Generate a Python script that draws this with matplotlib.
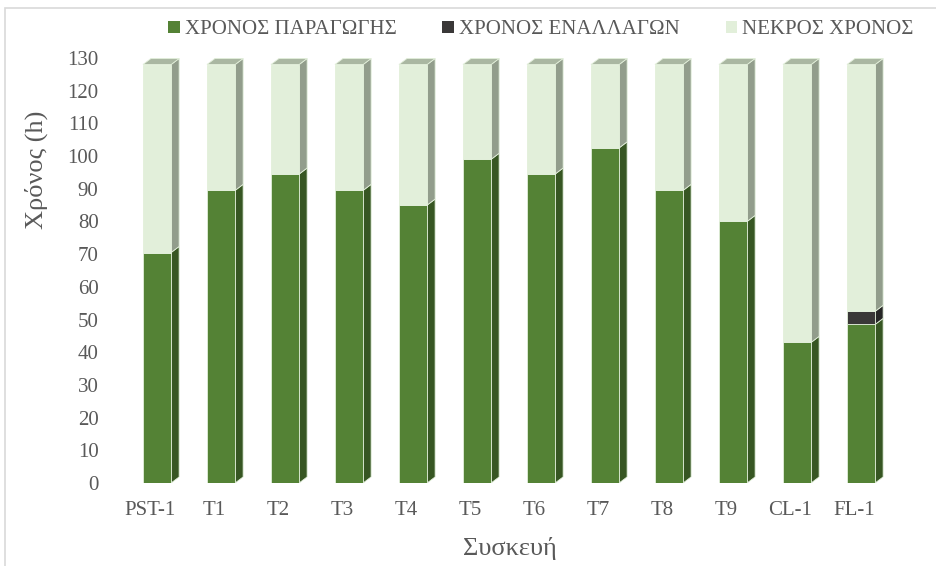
import matplotlib
matplotlib.use('Agg')
import matplotlib.pyplot as plt
from matplotlib.patches import Polygon, Rectangle, Patch
import numpy as np

# machine time breakdown (hours)
devices = ['PST-1', 'T1', 'T2', 'T3', 'T4', 'T5', 'T6', 'T7', 'T8', 'T9', 'CL-1', 'FL-1']
production = [70.5, 89.5, 94.5, 89.5, 85.0, 99.0, 94.5, 102.5, 89.5, 80.0, 43.0, 48.5]
changeover = [0, 0, 0, 0, 0, 0, 0, 0, 0, 0, 0, 4.0]
available = 128.0
dead = [available - p - c for p, c in zip(production, changeover)]

series_names = ['ΧΡΟΝΟΣ ΠΑΡΑΓΩΓΗΣ', 'ΧΡΟΝΟΣ ΕΝΑΛΛΑΓΩΝ', 'ΝΕΚΡΟΣ ΧΡΟΝΟΣ']
front_cols = ['#548235', '#3A3838', '#E2EFDA']
side_cols = ['#375623', '#262626', '#929D8C']
top_col = '#AAB7A2'
txt_col = '#595959'

plt.rcParams['font.family'] = ['Liberation Serif', 'DejaVu Serif']

W, H = 936, 566
fig = plt.figure(figsize=(W / 100, H / 100), dpi=100)
ax = fig.add_axes([118 / W, 1 - 483 / H, 768 / W, 425 / H])

# chart area border
fig.patches.append(Rectangle((5 / W, -0.1), 1.2, 1 - 8 / H + 0.1, transform=fig.transFigure,
                             fill=False, edgecolor='#D9D9D9', linewidth=1.2))

bw = 0.44      # front face width
shift = 0.11   # front face offset from category centre
dx = 0.125     # depth in x (data units)
dy = 1.85      # depth in y (data units)

x = np.arange(len(devices))
bottom = np.zeros(len(devices))
for k, vals in enumerate([production, changeover, dead]):
    vals = np.array(vals)
    for i in range(len(devices)):
        v = vals[i]
        if v <= 0:
            continue
        b, t = bottom[i], bottom[i] + v
        x0 = x[i] + shift - bw / 2
        x1 = x0 + bw
        ax.add_patch(Rectangle((x0, b), bw, v, facecolor=front_cols[k],
                               edgecolor='#E2EFDA', linewidth=0.6, zorder=3))
        ax.add_patch(Polygon([(x1, b), (x1 + dx, b + dy), (x1 + dx, t + dy), (x1, t)],
                             closed=True, facecolor=side_cols[k],
                             edgecolor='#E2EFDA', linewidth=0.6, zorder=2))
        if k == 2:
            ax.add_patch(Polygon([(x0, t), (x1, t), (x1 + dx, t + dy), (x0 + dx, t + dy)],
                                 closed=True, facecolor=top_col,
                                 edgecolor='#E2EFDA', linewidth=0.6, zorder=2))
    bottom += vals

ax.set_xlim(-0.5, len(devices) - 0.5)
ax.set_ylim(0, 130)
ax.set_xticks(x)
ax.set_xticklabels(devices)
ax.set_yticks(np.arange(0, 131, 10))
ax.tick_params(axis='both', length=0, labelsize=15, colors=txt_col)
ax.tick_params(axis='x', pad=13)
ax.tick_params(axis='y', pad=14)
for s in ax.spines.values():
    s.set_visible(False)

fig.text(36 / W, 1 - 170 / H, 'Χρόνος (h)', rotation=90, ha='center', va='center',
         fontsize=19, color=txt_col)
fig.text(510 / W, 1 - 548 / H, 'Συσκευή', ha='center', va='center',
         fontsize=19, color=txt_col)

handles = [Patch(facecolor=c, edgecolor='none') for c in front_cols]
leg = fig.legend(handles, series_names, loc='center', ncol=3,
                 bbox_to_anchor=(541 / W, 1 - 30 / H), frameon=False,
                 fontsize=15, handlelength=0.55, handleheight=0.55,
                 handletextpad=0.25, columnspacing=2.2)
for t in leg.get_texts():
    t.set_color(txt_col)

fig.savefig('out.png', dpi=100)
